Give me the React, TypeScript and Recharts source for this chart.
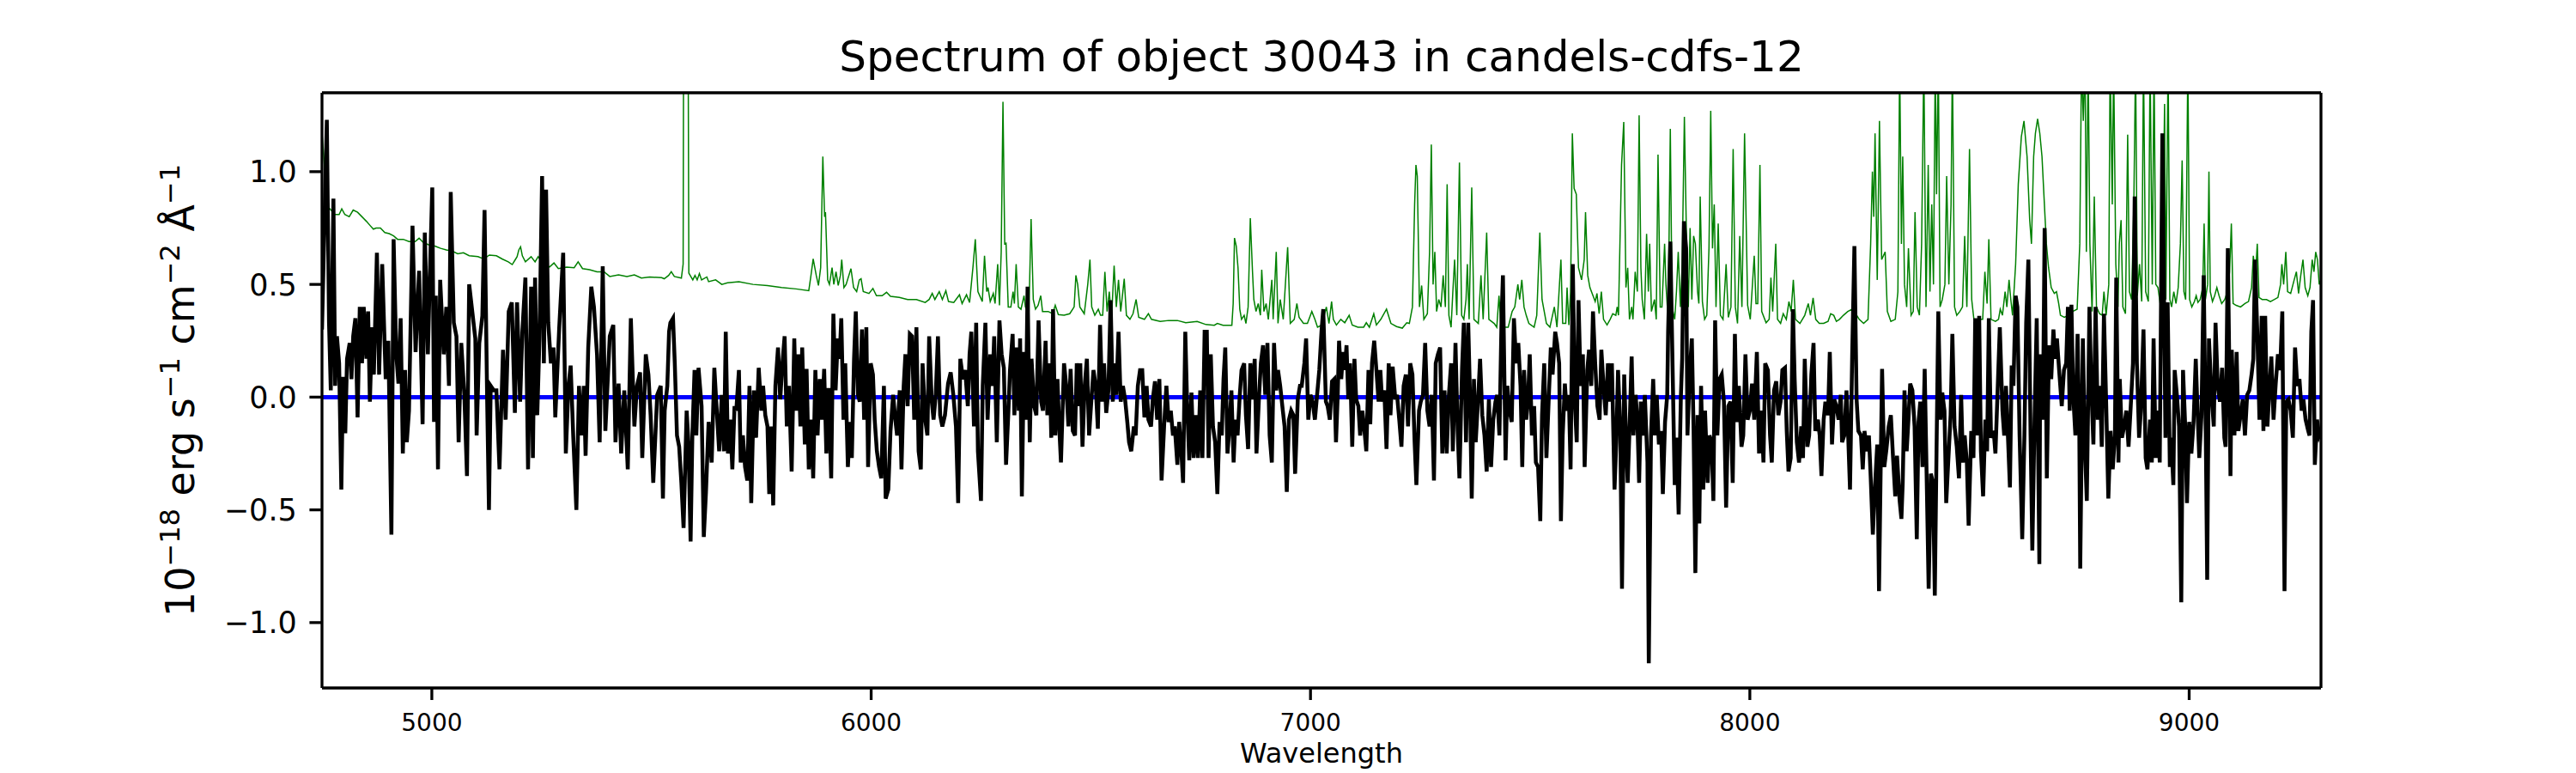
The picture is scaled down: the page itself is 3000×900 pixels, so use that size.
import React from 'react';
import { LineChart, Line, XAxis, YAxis, Label } from 'recharts';

// ---------- data ----------
const X_TICKS = [5000, 6000, 7000, 8000, 9000];
const Y_TICKS = [-1.0, -0.5, 0.0, 0.5, 1.0];
const X_DOMAIN: [number, number] = [4750, 9300];
const Y_DOMAIN: [number, number] = [-1.29, 1.35];

const TITLE = 'Spectrum of object 30043 in candels-cdfs-12';
const X_LABEL = 'Wavelength';

// observed flux (black) [wavelength, flux]
const FLUX_A: [number, number][] = [[4750,0.30],[4761,1.23],[4766,0.33],[4770,0.03],[4776,0.88],[4780,0.05],[4784,0.27],[4789,0.15],[4794,-0.41],[4798,0.09],[4803,-0.16],[4807,0.17],[4813,0.24],[4817,0.08],[4821,0.27],[4826,0.35],[4831,-0.09],[4836,0.40],[4841,0.15],[4845,0.40],[4851,0.17],[4855,0.38],[4859,-0.02],[4864,0.31],[4868,0.10],[4875,0.64],[4880,0.10],[4887,0.59],[4895,0.08],[4901,0.25],[4908,-0.61],[4913,0.70],[4919,0.19],[4924,0.06],[4929,0.35],[4934,-0.25],[4939,0.12],[4943,-0.20],[4948,-0.06],[4956,0.76],[4963,0.20],[4971,0.56],[4979,-0.12],[4984,0.73],[4991,0.19],[4995,0.50],[5001,0.93],[5005,-0.11],[5009,0.45],[5014,-0.32],[5019,0.52],[5027,0.19],[5033,0.40],[5039,0.05],[5043,0.91],[5050,0.33],[5056,0.27],[5061,-0.20],[5067,0.24],[5074,0.01],[5080,-0.35],[5085,0.50],[5092,0.38],[5099,0.26],[5102,-0.17],[5108,0.24],[5115,0.36],[5120,0.83],[5126,-0.02],[5130,-0.50],[5134,0.05],[5141,0.03],[5147,0.03],[5154,-0.32],[5162,0.21],[5168,-0.10],[5175,0.38],[5182,0.42],[5189,-0.07],[5194,0.42],[5201,-0.02],[5206,0.29],[5213,0.53],[5219,-0.32],[5226,0.49],[5230,-0.27],[5235,0.53],[5240,-0.08],[5245,0.26],[5251,0.98],[5255,0.15],[5260,0.92],[5265,0.33],[5271,0.15],[5277,0.22],[5281,-0.09],[5290,0.31],[5299,0.64],[5305,-0.25],[5311,0.05],[5316,0.14],[5322,-0.18],[5329,-0.50],[5335,0.05],[5340,-0.17],[5346,0.05],[5350,-0.26],[5356,0.22],[5363,0.49],[5369,0.40],[5376,0.19],[5382,-0.20],[5389,0.58],[5395,-0.15],[5405,0.27],[5413,0.32],[5418,-0.20],[5425,0.06],[5431,-0.25],[5438,0.03],[5446,-0.32],[5453,0.35],[5461,-0.13],[5467,0.05],[5474,0.11],[5479,-0.27],[5487,0.19],[5493,0.10],[5498,-0.08],[5504,-0.38],[5513,0.01],[5521,0.05]];

const FLUX_B: [number, number][] = [[5526,-0.45],[5530,-0.06],[5536,0.05],[5540,0.29],[5543,0.33],[5549,0.35],[5553,0.15],[5558,-0.17],[5563,-0.22],[5568,-0.38],[5573,-0.58],[5580,-0.06],[5584,-0.20],[5589,-0.64],[5593,-0.17],[5598,0.12],[5602,-0.17],[5607,0.13],[5614,-0.04],[5619,-0.62],[5624,-0.42],[5630,-0.11],[5637,-0.29],[5643,0.13],[5648,-0.04],[5654,-0.24],[5660,0.01],[5665,-0.24],[5669,0.29],[5674,-0.25],[5679,-0.10],[5684,-0.32],[5689,-0.04],[5693,-0.06],[5699,0.12],[5703,-0.29],[5708,-0.17],[5713,-0.31],[5718,-0.37],[5723,0.05],[5727,-0.47],[5733,0.03],[5738,-0.18],[5744,0.13],[5750,-0.06],[5754,0.05],[5759,-0.08],[5764,-0.13],[5768,-0.43],[5773,-0.13],[5777,-0.48],[5782,0.05],[5788,0.22],[5793,-0.01],[5798,0.15],[5803,0.27],[5808,-0.13],[5813,0.05],[5819,-0.33],[5825,0.26],[5829,-0.06],[5834,0.19],[5839,-0.13],[5843,0.22],[5849,-0.21],[5853,0.125],[5858,-0.32],[5864,-0.10],[5868,-0.36],[5873,0.12],[5878,-0.17],[5883,0.08],[5888,-0.10],[5893,0.125],[5898,-0.25],[5903,0.04],[5909,-0.36],[5914,0.37],[5919,0.03],[5924,0.26],[5928,0.17],[5932,0.35],[5937,-0.10],[5941,0.15],[5947,-0.31],[5952,-0.11],[5956,-0.27],[5961,0.17],[5965,0.38],[5970,0.01],[5974,-0.02],[5979,0.30],[5984,-0.10],[5989,0.31],[5993,-0.31],[5999,0.15],[6004,0.10],[6008,-0.10],[6013,-0.24],[6018,-0.31],[6023,-0.36],[6029,0.05],[6033,-0.45],[6039,-0.41],[6044,-0.15],[6050,0.01],[6055,-0.10],[6059,-0.17],[6065,0.03],[6069,-0.32],[6074,0.05],[6078,0.19],[6083,-0.04],[6088,0.28],[6093,0.27],[6098,-0.10],[6103,0.31],[6108,-0.24],[6113,-0.32],[6117,0.15],[6123,-0.10],[6128,-0.17],[6132,0.27],[6138,-0.02],[6142,-0.10],[6147,0.01],[6152,0.27],[6157,-0.08],[6162,-0.13],[6168,-0.08],[6175,0.06],[6181,0.11],[6187,0.01],[6193,-0.13],[6198,-0.47],[6203,0.17],[6209,0.08],[6214,0.12],[6220,-0.04],[6224,0.19],[6228,0.29],[6234,-0.13],[6239,0.33],[6243,-0.24],[6250,-0.46],[6254,0.05],[6260,0.33],[6265,-0.10],[6271,0.19],[6276,0.05],[6280,0.27],[6286,-0.20]];

const FLUX_C: [number, number][] = [[6292,0.34],[6297,0.19],[6302,0.13],[6307,-0.30],[6312,-0.08],[6316,0.12],[6322,0.28],[6326,-0.08],[6331,0.22],[6336,-0.06],[6339,0.26],[6343,-0.44],[6348,0.20],[6352,-0.10],[6356,0.49],[6361,-0.20],[6365,0.17],[6371,-0.04],[6376,-0.08],[6381,0.34],[6387,-0.02],[6391,-0.06],[6397,0.25],[6401,-0.08],[6406,0.15],[6410,-0.18],[6414,0.39],[6419,-0.17],[6424,0.08],[6428,-0.13],[6432,-0.29],[6439,0.15],[6444,0.05],[6449,-0.13],[6454,0.125],[6459,-0.15],[6464,-0.17],[6468,0.15],[6474,-0.04],[6476,0.15],[6481,-0.22],[6486,0.05],[6491,0.17],[6496,-0.17],[6501,-0.02],[6506,0.12],[6511,0.05],[6516,-0.14],[6521,0.32],[6526,-0.02],[6530,0.15],[6535,-0.07],[6540,0.03],[6545,0.43],[6550,-0.02],[6554,0.15],[6558,0.01],[6563,0.29],[6568,-0.02],[6573,0.05],[6578,-0.01],[6583,-0.11],[6587,-0.20],[6592,-0.24],[6598,-0.13],[6602,-0.17],[6607,0.05],[6612,0.12],[6617,0.12],[6622,-0.09],[6627,0.05],[6631,-0.10],[6637,-0.13],[6641,-0.01],[6646,0.07],[6651,-0.10],[6656,0.08],[6661,-0.37],[6667,-0.12],[6672,0.05],[6677,-0.11],[6682,-0.06],[6687,-0.17],[6691,-0.13],[6697,-0.30],[6701,-0.11],[6706,-0.24],[6710,-0.38],[6715,0.29],[6719,-0.02],[6724,-0.28],[6729,0.02],[6734,-0.27],[6739,-0.08],[6744,-0.27],[6749,0.03],[6754,-0.27],[6759,0.29],[6764,0.29],[6768,-0.27],[6773,0.19],[6778,-0.13],[6783,-0.20],[6788,-0.43],[6793,-0.11],[6798,-0.17],[6802,0.08],[6806,0.22],[6811,-0.25],[6815,-0.15],[6820,0.03],[6825,-0.29],[6829,-0.10],[6834,-0.17],[6839,0.01],[6843,0.12],[6849,0.15],[6853,-0.08],[6858,-0.23],[6863,0.15],[6868,-0.01],[6873,0.17],[6877,-0.25],[6883,0.01],[6887,0.15],[6892,0.23],[6897,0.01],[6902,0.24],[6907,-0.17],[6912,-0.29],[6917,0.24],[6922,0.03],[6926,0.12],[6931,0.05],[6937,-0.06],[6941,-0.13],[6946,-0.42],[6951,-0.10],[6956,-0.06],[6961,-0.08],[6965,-0.34],[6971,-0.01],[6976,0.05],[6980,0.05],[6986,0.15],[6990,0.26],[6995,-0.10],[7000,0.01],[7005,-0.02],[7010,-0.10],[7015,0.01],[7020,0.12],[7025,0.29],[7029,0.39]];

const FLUX_D: [number, number][] = [[7035,-0.02],[7039,-0.04],[7044,-0.10],[7049,0.07],[7054,0.08],[7058,-0.20],[7062,0.01],[7065,0.25],[7070,0.08],[7074,0.20],[7078,0.12],[7082,0.23],[7086,-0.01],[7090,0.15],[7095,-0.22],[7100,0.17],[7104,-0.01],[7109,-0.04],[7113,-0.17],[7118,-0.06],[7122,-0.13],[7127,-0.24],[7132,0.12],[7136,-0.12],[7140,0.15],[7145,0.25],[7150,0.12],[7155,-0.02],[7159,0.12],[7163,-0.02],[7168,0.03],[7173,-0.23],[7178,0.15],[7182,-0.08],[7187,0.135],[7193,-0.01],[7197,0.01],[7202,-0.10],[7207,-0.22],[7212,0.05],[7217,0.10],[7222,-0.13],[7227,0.15],[7232,0.10],[7237,-0.20],[7241,-0.39],[7247,-0.06],[7251,-0.02],[7256,0.01],[7261,0.24],[7266,-0.06],[7271,-0.13],[7276,0.01],[7281,-0.37],[7285,0.15],[7290,0.19],[7295,0.22],[7300,-0.25],[7305,0.03],[7310,-0.25],[7315,0.01],[7320,0.15],[7324,-0.24],[7330,0.24],[7335,-0.15],[7339,-0.36],[7345,0.13],[7349,0.33],[7354,-0.20],[7359,0.33],[7363,0.01],[7367,-0.45],[7372,0.08],[7376,-0.20],[7382,0.01],[7386,0.17],[7391,-0.08],[7396,-0.17],[7401,-0.33],[7406,-0.01],[7411,-0.31],[7416,-0.10],[7421,-0.02],[7425,0.01],[7430,-0.17],[7435,0.36],[7438,0.54],[7444,-0.28],[7448,0.05],[7453,-0.06],[7458,-0.11],[7463,0.35],[7468,0.15],[7473,0.24],[7478,0.05],[7482,-0.31],[7486,0.12],[7491,-0.10],[7495,-0.02],[7499,0.19],[7504,-0.17],[7509,-0.04],[7513,-0.29],[7518,-0.31],[7523,-0.55],[7527,-0.08],[7532,0.15],[7537,-0.27],[7542,-0.02],[7547,0.22],[7551,0.10],[7557,0.29],[7561,0.24],[7566,0.15],[7570,-0.55],[7574,-0.17],[7579,0.06],[7583,-0.06],[7588,0.01],[7592,-0.32],[7597,0.59],[7602,-0.04],[7606,-0.20],[7610,0.43],[7615,0.05],[7620,0.19],[7624,-0.31],[7630,0.12],[7634,0.21],[7639,0.05],[7643,0.38],[7648,0.15],[7653,-0.04],[7658,-0.10],[7662,0.21],[7667,0.05],[7672,-0.08],[7677,0.15],[7682,-0.02],[7686,0.15],[7692,-0.41],[7696,-0.20],[7700,0.12],[7705,-0.13],[7709,-0.85],[7714,0.10],[7718,-0.17],[7722,-0.38],[7726,-0.15],[7731,0.18],[7735,-0.17],[7740,0.01],[7744,-0.10],[7748,-0.38],[7752,-0.02],[7757,-0.17],[7761,0.01],[7767,-0.29],[7770,-1.18],[7775,-0.17],[7780,0.08],[7784,-0.17],[7788,0.01],[7793,-0.21],[7798,-0.15],[7802,-0.43],[7807,-0.11],[7812,0.01]];

const FLUX_E: [number, number][] = [[7814,0.29],[7819,0.69],[7823,0.26],[7829,-0.39],[7833,-0.18],[7838,-0.52],[7843,0.00],[7846,0.17],[7850,0.78],[7855,0.66],[7858,-0.17],[7863,0.10],[7868,0.26],[7872,-0.15],[7876,-0.78],[7881,-0.08],[7885,-0.56],[7889,0.05],[7894,-0.41],[7898,-0.06],[7904,-0.38],[7908,-0.17],[7913,-0.20],[7917,-0.46],[7921,0.34],[7926,-0.17],[7931,0.08],[7936,0.10],[7941,-0.02],[7946,-0.49],[7951,-0.04],[7956,-0.02],[7961,-0.38],[7966,0.28],[7970,-0.11],[7975,0.05],[7981,-0.22],[7985,-0.17],[7990,0.19],[7995,-0.10],[8000,-0.06],[8005,0.06],[8010,-0.10],[8016,0.20],[8021,-0.25],[8026,-0.06],[8031,-0.29],[8035,0.15],[8041,0.12],[8046,-0.17],[8050,-0.29],[8055,0.03],[8060,0.07],[8065,-0.08],[8070,-0.02],[8074,0.12],[8080,0.13],[8084,-0.15],[8088,-0.33],[8093,-0.27],[8098,0.39],[8102,0.08],[8107,-0.20],[8112,-0.29],[8117,-0.13],[8121,-0.27],[8125,0.17],[8131,-0.22],[8135,-0.17],[8140,0.10],[8145,0.24],[8149,-0.15],[8155,-0.10],[8159,-0.17],[8163,-0.35],[8168,-0.10],[8172,-0.02],[8178,-0.08],[8182,0.20],[8187,-0.21],[8192,-0.01],[8197,-0.04],[8202,-0.10],[8207,0.01],[8210,-0.20],[8215,-0.17],[8220,0.03],[8224,-0.18],[8228,-0.41],[8233,0.19],[8238,0.67],[8243,-0.01],[8247,-0.15],[8253,-0.17],[8257,-0.32],[8261,-0.15],[8266,-0.24],[8271,-0.17],[8275,-0.35],[8280,-0.61],[8285,-0.39],[8290,-0.21],[8294,-0.86],[8298,-0.29],[8301,0.125],[8306,-0.31],[8311,-0.23],[8316,-0.13],[8321,-0.08],[8326,-0.27],[8331,-0.44],[8335,-0.26],[8341,-0.46],[8345,-0.54],[8348,-0.38],[8352,0.03],[8357,-0.24],[8361,-0.10],[8365,0.06],[8370,0.03],[8375,-0.13],[8380,-0.63],[8384,-0.11],[8388,-0.02],[8393,-0.31],[8398,0.125],[8403,-0.41],[8407,-0.85],[8412,-0.34],[8417,-0.38],[8421,-0.88],[8425,-0.23],[8429,0.38],[8434,-0.10],[8438,0.02],[8443,-0.06],[8447,-0.47],[8451,-0.31],[8457,-0.08],[8461,0.28],[8466,-0.13],[8471,-0.22],[8476,-0.36],[8481,0.01],[8485,-0.29],[8489,-0.17],[8494,-0.29],[8498,-0.57],[8504,-0.15],[8509,-0.27],[8513,0.35],[8518,-0.17],[8522,0.36],[8526,-0.24],[8531,-0.44],[8536,-0.10],[8540,-0.24],[8544,0.35],[8549,-0.18],[8555,-0.15],[8559,-0.25],[8564,0.03],[8569,0.31],[8575,-0.06]];

const FLUX_F: [number, number][] = [[8579,-0.17],[8583,0.05],[8587,-0.15],[8592,-0.40],[8596,0.14],[8600,0.05],[8605,0.45],[8609,0.40],[8614,-0.17],[8620,-0.63],[8625,-0.17],[8629,0.33],[8634,0.61],[8639,-0.17],[8643,-0.68],[8648,-0.10],[8653,0.35],[8659,-0.74],[8661,0.19],[8667,-0.10],[8671,0.75],[8676,-0.36],[8681,0.23],[8686,0.08],[8691,0.30],[8695,0.17],[8699,0.26],[8704,0.12],[8710,-0.04],[8715,0.12],[8720,0.15],[8724,0.40],[8728,-0.06],[8732,0.41],[8736,0.01],[8741,-0.17],[8746,0.28],[8750,-0.17],[8752,-0.76],[8758,0.26],[8763,-0.24],[8767,-0.46],[8773,0.40],[8777,0.06],[8782,-0.21],[8787,0.40],[8792,-0.10],[8797,0.05],[8801,-0.22],[8806,0.37],[8811,-0.02],[8816,-0.45],[8821,-0.15],[8826,-0.32],[8831,-0.17],[8834,0.53],[8839,-0.29],[8842,0.08],[8847,-0.18],[8852,-0.13],[8857,-0.06],[8862,-0.22],[8867,-0.04],[8872,0.15],[8876,0.89],[8881,0.15],[8886,-0.18],[8890,-0.06],[8896,0.30],[8901,-0.27],[8905,-0.32],[8911,-0.10],[8915,-0.29],[8919,0.26],[8924,-0.27],[8928,-0.06],[8933,-0.29],[8939,1.17],[8943,0.40],[8946,-0.18],[8951,0.42],[8956,-0.31],[8959,-0.18],[8964,-0.39],[8967,0.12],[8972,0.01],[8977,-0.13],[8982,-0.91],[8986,0.12],[8991,-0.13],[8995,-0.47],[9000,-0.11],[9005,-0.25],[9010,-0.11],[9015,0.17],[9019,-0.06],[9023,-0.27],[9028,-0.08],[9033,0.54],[9038,-0.20],[9041,-0.81],[9045,0.26],[9051,0.01],[9056,-0.13],[9060,0.33],[9065,0.05],[9070,-0.02],[9075,0.13],[9080,-0.18],[9083,-0.22],[9088,0.66],[9092,0.03],[9094,-0.35],[9097,0.21],[9103,-0.17],[9108,0.20],[9112,-0.15],[9117,-0.08],[9122,-0.01],[9127,-0.17],[9132,0.01],[9137,0.03],[9142,0.10],[9146,0.17],[9150,0.61],[9155,0.29],[9160,-0.10],[9165,0.36],[9169,-0.15],[9173,0.36],[9178,-0.13],[9182,0.01],[9187,0.18],[9192,-0.10],[9197,0.06],[9202,0.19],[9207,0.12],[9212,0.38],[9217,-0.86],[9221,-0.02],[9226,-0.01],[9231,-0.06],[9236,-0.18],[9241,0.22],[9246,0.05],[9251,0.08],[9256,-0.06],[9260,-0.01],[9265,-0.10],[9271,-0.15],[9274,-0.17],[9278,0.29],[9282,0.43],[9286,-0.30],[9291,-0.10],[9296,-0.17],[9300,-0.15]];

// noise / sky spectrum (green) [wavelength, value]
const NOISE_A: [number, number][] = [[4750,1.17],[4759,0.94],[4766,0.84],[4779,0.81],[4789,0.81],[4795,0.835],[4802,0.81],[4812,0.80],[4821,0.83],[4831,0.82],[4841,0.80],[4851,0.78],[4860,0.76],[4867,0.745],[4873,0.75],[4883,0.75],[4893,0.73],[4903,0.725],[4913,0.715],[4922,0.70],[4935,0.70],[4948,0.69],[4962,0.69],[4971,0.705],[4981,0.685],[4994,0.675],[5007,0.67],[5020,0.66],[5033,0.653],[5046,0.648],[5059,0.636],[5072,0.64],[5085,0.627],[5105,0.623],[5118,0.613],[5131,0.63],[5147,0.627],[5160,0.613],[5174,0.60],[5183,0.588],[5190,0.61],[5194,0.623],[5198,0.653],[5202,0.667],[5206,0.627],[5213,0.60],[5226,0.623],[5235,0.60],[5242,0.623],[5255,0.59],[5268,0.577],[5278,0.595],[5288,0.57],[5307,0.577],[5324,0.574],[5333,0.60],[5343,0.57],[5359,0.565],[5376,0.556],[5392,0.556],[5405,0.535],[5425,0.542],[5444,0.535],[5461,0.542],[5477,0.528],[5496,0.533],[5523,0.53]];

const NOISE_B: [number, number][] = [[5529,0.525],[5539,0.54],[5545,0.556],[5552,0.535],[5568,0.528],[5572,0.59],[5574,2.5],[5582,2.5],[5585,0.55],[5588,0.54],[5594,0.52],[5599,0.54],[5604,0.52],[5609,0.548],[5614,0.52],[5626,0.533],[5630,0.512],[5646,0.52],[5660,0.50],[5673,0.507],[5699,0.512],[5731,0.50],[5764,0.495],[5796,0.486],[5829,0.48],[5858,0.472],[5863,0.54],[5868,0.613],[5875,0.54],[5880,0.495],[5885,0.574],[5890,1.067],[5894,0.80],[5896,0.82],[5901,0.52],[5905,0.50],[5911,0.574],[5915,0.50],[5920,0.556],[5925,0.495],[5930,0.54],[5933,0.61],[5938,0.486],[5943,0.50],[5954,0.57],[5960,0.486],[5967,0.468],[5973,0.52],[5977,0.525],[5982,0.468],[5995,0.46],[6004,0.482],[6012,0.45],[6025,0.45],[6035,0.465],[6044,0.447],[6064,0.442],[6083,0.433],[6103,0.433],[6123,0.42],[6132,0.433],[6139,0.46],[6145,0.433],[6155,0.468],[6162,0.433],[6170,0.472],[6176,0.424],[6188,0.42],[6201,0.454],[6207,0.415],[6217,0.454],[6224,0.42],[6232,0.583],[6237,0.70],[6243,0.468],[6253,0.424],[6258,0.627],[6263,0.468]];

const NOISE_C: [number, number][] = [[6266,0.486],[6271,0.424],[6278,0.46],[6282,0.415],[6288,0.59],[6292,0.407],[6296,0.644],[6300,1.31],[6304,0.68],[6307,0.683],[6312,0.40],[6318,0.40],[6323,0.468],[6326,0.415],[6330,0.59],[6335,0.40],[6341,0.39],[6348,0.45],[6351,0.40],[6359,0.37],[6364,0.79],[6369,0.433],[6374,0.39],[6380,0.407],[6386,0.45],[6390,0.38],[6403,0.38],[6413,0.37],[6419,0.407],[6426,0.366],[6439,0.363],[6452,0.37],[6462,0.40],[6466,0.54],[6470,0.50],[6475,0.40],[6485,0.37],[6493,0.50],[6498,0.61],[6502,0.40],[6509,0.363],[6517,0.39],[6522,0.363],[6527,0.363],[6532,0.556],[6537,0.38],[6542,0.468],[6547,0.345],[6553,0.583],[6558,0.40],[6563,0.52],[6568,0.38],[6576,0.525],[6581,0.363],[6589,0.345],[6596,0.37],[6603,0.433],[6609,0.354],[6622,0.345],[6631,0.37],[6638,0.345],[6658,0.336],[6677,0.34],[6697,0.34],[6716,0.33],[6742,0.336],[6762,0.322],[6781,0.319],[6788,0.327],[6801,0.319],[6821,0.319],[6824,0.415],[6827,0.706],[6831,0.67],[6835,0.574],[6839,0.39],[6843,0.345],[6849,0.363],[6853,0.327],[6858,0.40],[6863,0.794],[6868,0.556],[6871,0.433],[6876,0.38],[6881,0.415],[6886,0.363],[6889,0.565],[6894,0.38],[6899,0.415],[6904,0.345],[6912,0.52],[6915,0.345],[6922,0.644],[6926,0.327],[6931,0.433],[6938,0.345],[6948,0.665],[6954,0.327],[6963,0.345],[6969,0.415],[6974,0.354],[6984,0.327],[6993,0.327],[7003,0.38],[7010,0.345],[7016,0.31],[7026,0.32]];

const NOISE_D: [number, number][] = [[7036,0.40],[7042,0.327],[7048,0.424],[7052,0.345],[7059,0.32],[7069,0.345],[7078,0.33],[7088,0.363],[7095,0.32],[7108,0.31],[7121,0.31],[7127,0.33],[7134,0.31],[7144,0.37],[7150,0.32],[7160,0.345],[7173,0.39],[7183,0.327],[7196,0.313],[7209,0.306],[7219,0.33],[7225,0.327],[7232,0.40],[7237,0.855],[7240,1.03],[7243,0.98],[7248,0.40],[7253,0.495],[7258,0.345],[7266,0.37],[7271,0.644],[7275,1.12],[7279,0.50],[7283,0.644],[7287,0.38],[7292,0.433],[7297,0.40],[7302,0.54],[7307,0.40],[7311,0.944],[7315,0.363],[7320,0.31],[7324,0.468],[7328,0.61],[7333,0.363],[7339,1.04],[7344,0.363],[7349,0.345],[7354,0.433],[7357,0.59],[7361,0.345],[7367,0.93],[7372,0.345],[7382,0.327],[7388,0.54],[7393,0.345],[7401,0.73],[7406,0.345],[7418,0.327],[7424,0.31],[7429,0.45],[7433,0.327],[7439,0.31],[7450,0.31],[7459,0.38],[7465,0.40],[7472,0.50],[7476,0.433],[7481,0.52],[7486,0.40],[7491,0.363],[7497,0.327],[7509,0.31],[7515,0.363],[7522,0.73],[7527,0.433],[7532,0.38],[7537,0.327],[7545,0.31],[7555,0.40],[7561,0.31],[7570,0.61],[7574,0.327],[7581,0.327],[7584,0.486],[7588,0.32],[7592,0.468],[7596,1.17],[7600,0.926],[7605,0.90],[7610,0.574],[7617,0.52],[7623,0.61],[7626,0.82],[7631,0.54],[7636,0.486],[7643,0.45],[7648,0.424],[7652,0.46],[7657,0.37],[7662,0.468],[7667,0.345],[7675,0.32],[7682,0.345],[7688,0.37],[7695,0.363],[7698,0.40],[7701,0.363],[7708,1.03],[7713,1.22],[7718,0.486],[7722,0.574],[7726,0.345],[7731,0.40],[7734,0.345],[7739,0.556],[7744,0.468],[7748,1.25],[7752,0.574],[7755,0.433],[7760,0.345],[7765,0.724],[7769,0.468],[7772,0.68],[7776,0.38],[7783,0.433],[7787,0.345],[7791,1.076],[7796,0.40],[7800,0.40],[7806,0.68],[7809,0.50],[7814,0.345]];

const NOISE_E: [number, number][] = [[7819,1.19],[7823,0.40],[7829,0.345],[7833,0.468],[7837,0.644],[7842,0.40],[7846,0.59],[7851,1.243],[7856,0.68],[7860,0.40],[7864,0.75],[7868,0.433],[7872,0.715],[7876,0.68],[7881,0.468],[7884,0.415],[7887,0.89],[7892,0.424],[7897,0.345],[7902,0.363],[7907,0.66],[7911,1.27],[7915,0.66],[7919,0.855],[7923,0.40],[7928,0.77],[7933,0.363],[7939,0.345],[7946,0.59],[7951,0.354],[7957,0.40],[7962,1.10],[7967,0.40],[7972,0.327],[7977,0.715],[7982,0.40],[7988,1.17],[7995,0.407],[8001,0.345],[8010,0.627],[8014,0.415],[8018,0.415],[8023,1.03],[8027,0.38],[8037,0.33],[8044,0.345],[8048,0.53],[8052,0.38],[8059,0.68],[8063,0.345],[8070,0.327],[8076,0.37],[8083,0.345],[8089,0.424],[8094,0.38],[8099,0.52],[8104,0.345],[8114,0.327],[8125,0.363],[8133,0.415],[8138,0.363],[8144,0.44],[8150,0.345],[8158,0.327],[8168,0.327],[8178,0.336],[8184,0.37],[8191,0.363],[8197,0.336],[8204,0.345],[8213,0.363],[8223,0.38],[8233,0.39],[8241,0.37],[8249,0.345],[8259,0.327],[8269,0.345],[8275,0.68],[8279,1.0],[8282,0.80],[8285,1.17],[8290,0.52],[8295,1.225],[8300,0.61],[8308,0.644],[8313,0.38],[8321,0.336],[8331,0.345],[8337,0.468],[8341,1.5],[8345,0.68],[8348,1.067],[8352,0.50],[8357,0.40],[8361,0.66],[8367,0.363],[8372,0.38],[8376,0.82],[8381,0.40],[8386,0.363],[8391,0.68],[8396,1.5],[8401,0.40],[8406,1.03],[8410,0.468],[8414,0.855],[8418,0.50],[8422,1.5],[8425,0.9],[8429,1.5],[8433,0.40],[8438,0.433],[8444,0.50],[8448,0.98],[8453,0.50],[8458,0.855],[8461,1.5],[8466,0.40],[8471,0.363],[8478,0.38],[8484,0.40],[8489,0.715],[8494,0.40],[8500,1.10],[8505,0.433],[8510,0.345],[8520,0.345],[8530,0.345],[8535,0.556],[8540,0.415],[8544,0.70],[8549,0.345],[8559,0.336],[8566,0.345],[8570,0.39],[8575,0.363]];

const NOISE_F: [number, number][] = [[8581,0.468],[8585,0.40],[8590,0.52],[8594,0.433],[8598,0.363],[8605,0.59],[8611,0.944],[8618,1.155],[8624,1.225],[8631,1.067],[8637,0.785],[8641,0.68],[8646,1.067],[8650,1.17],[8655,1.234],[8660,1.17],[8665,1.067],[8670,0.873],[8675,0.68],[8680,0.574],[8686,0.486],[8693,0.46],[8698,0.468],[8703,0.415],[8707,0.363],[8716,0.354],[8725,0.363],[8735,0.38],[8745,0.39],[8751,0.68],[8755,1.5],[8759,1.225],[8763,1.5],[8766,0.644],[8770,1.5],[8774,0.68],[8779,0.38],[8784,0.89],[8789,0.40],[8796,0.37],[8802,0.363],[8806,0.468],[8811,0.363],[8817,0.50],[8820,1.5],[8825,0.855],[8828,1.5],[8833,0.59],[8838,0.40],[8841,0.68],[8845,0.785],[8849,0.40],[8855,0.37],[8860,1.164],[8864,0.468],[8869,0.433],[8874,0.855],[8878,1.5],[8882,0.45],[8887,0.59],[8892,0.424],[8896,1.5],[8901,0.468],[8907,0.424],[8911,1.5],[8916,0.50],[8920,1.5],[8924,0.50],[8929,0.486],[8934,0.415],[8939,0.50],[8944,1.30],[8947,0.433],[8952,1.5],[8956,0.433],[8960,0.40],[8965,0.468],[8970,0.415],[8975,0.486],[8980,0.68],[8984,1.05],[8988,0.468],[8992,0.433],[8997,1.5],[9001,0.433],[9006,0.40],[9012,0.424],[9016,0.45],[9020,0.42],[9025,0.433],[9031,0.486],[9034,0.77],[9037,0.433],[9042,0.50],[9045,1.0],[9048,0.468],[9053,0.424],[9058,0.45],[9063,0.486],[9068,0.45],[9074,0.415],[9081,0.433],[9087,0.468],[9092,0.556],[9096,0.77],[9100,0.415],[9107,0.407],[9117,0.40],[9127,0.415],[9135,0.424],[9142,0.486],[9146,0.627],[9151,0.54],[9155,0.68],[9159,0.442],[9166,0.433],[9176,0.433],[9185,0.424],[9194,0.433],[9202,0.442],[9208,0.50],[9211,0.59],[9215,0.50],[9220,0.644],[9224,0.468],[9231,0.46],[9239,0.52],[9244,0.556],[9249,0.46],[9254,0.54],[9259,0.61],[9264,0.486],[9270,0.45],[9275,0.486],[9280,0.61],[9284,0.556],[9288,0.644],[9292,0.61],[9296,0.50],[9300,0.52]];

// model (blue) [wavelength, value]
const MODEL: [number, number][] = [[4750, 0], [9300, 0]];

// ---------- build tables ----------
type Row = { wl: number; v: number };
const toRows = (pairs: [number, number][]): Row[] => pairs.map(([wl, v]) => ({ wl, v }));
const fluxRows = toRows([...FLUX_A, ...FLUX_B, ...FLUX_C, ...FLUX_D, ...FLUX_E, ...FLUX_F]);
const noiseRows = toRows([...NOISE_A, ...NOISE_B, ...NOISE_C, ...NOISE_D, ...NOISE_E, ...NOISE_F]);
const modelRows = toRows(MODEL);

// ---------- styling ----------
const FONT = '"DejaVu Sans", Verdana, sans-serif';
const SPINE = { stroke: '#000', strokeWidth: 3.3 };
const fmtY = (v: number) => (v < 0 ? '\u2212' : '') + Math.abs(v).toFixed(1);

const TitleLabel = (props: any) => {
  const vb = props.viewBox || { x: 375, y: 78, width: 2328, height: 30 };
  return (
    <text x={vb.x + vb.width / 2} y={vb.y + vb.height - 25} textAnchor="middle"
      fontFamily={FONT} fontSize={50} fill="#000">{TITLE}</text>
  );
};

const XLabel = (props: any) => {
  const vb = props.viewBox || { x: 375, y: 801, width: 2328, height: 99 };
  return (
    <text x={vb.x + vb.width / 2} y={vb.y + 87} textAnchor="middle"
      fontFamily={FONT} fontSize={32} fill="#000">{X_LABEL}</text>
  );
};

const YLabel = (props: any) => {
  const vb = props.viewBox || { x: 255, y: 108, width: 120, height: 693 };
  const cx = vb.x + vb.width - 149;
  const cy = vb.y + vb.height / 2;
  const SUP = 32;
  const UP = 17;
  return (
    <text x={cx} y={cy} textAnchor="middle" transform={`rotate(-90, ${cx}, ${cy})`}
      fontFamily={FONT} fontSize={46} fill="#000">
      <tspan>10</tspan>
      <tspan fontSize={SUP} dy={-UP}>{'\u221218'}</tspan>
      <tspan dy={UP}>{' erg s'}</tspan>
      <tspan fontSize={SUP} dy={-UP}>{'\u22121'}</tspan>
      <tspan dy={UP}>{' cm'}</tspan>
      <tspan fontSize={SUP} dy={-UP}>{'\u22122'}</tspan>
      <tspan dy={UP}>{' \u00C5'}</tspan>
      <tspan fontSize={SUP} dy={-UP}>{'\u22121'}</tspan>
    </text>
  );
};

export default function App() {
  return (
    <div style={{ position: 'absolute', left: 0, top: 0, width: 3000, height: 900, background: '#fff' }}>
      <LineChart width={3000} height={900} margin={{ top: 78, right: 267, bottom: 0, left: 255 }}>
        <XAxis xAxisId="bottom" dataKey="wl" type="number" domain={X_DOMAIN} allowDataOverflow
          ticks={X_TICKS} interval={0} height={99} tickSize={14} tickMargin={16}
          tick={{ fontSize: 28, fill: '#000', fontFamily: FONT }}
          axisLine={SPINE} tickLine={SPINE}>
          <Label content={XLabel} />
        </XAxis>
        <XAxis xAxisId="top" orientation="top" dataKey="wl" type="number" domain={X_DOMAIN} allowDataOverflow
          height={30} tick={false} tickLine={false} axisLine={SPINE}>
          <Label content={TitleLabel} />
        </XAxis>
        <YAxis yAxisId="left" type="number" domain={Y_DOMAIN} allowDataOverflow ticks={Y_TICKS} interval={0}
          width={120} tickSize={14.6} tickMargin={14.6} tickFormatter={fmtY}
          tick={{ fontSize: 35, fill: '#000', fontFamily: FONT }}
          axisLine={SPINE} tickLine={SPINE}>
          <Label content={YLabel} />
        </YAxis>
        <YAxis yAxisId="right" orientation="right" type="number" domain={Y_DOMAIN} allowDataOverflow
          width={30} tick={false} tickLine={false} axisLine={SPINE} />
        <Line xAxisId="bottom" yAxisId="left" data={noiseRows} dataKey="v" type="linear"
          stroke="#008000" strokeWidth={1.5} dot={false} activeDot={false} isAnimationActive={false} />
        <Line xAxisId="bottom" yAxisId="left" data={modelRows} dataKey="v" type="linear"
          stroke="#0000ff" strokeWidth={5} dot={false} activeDot={false} isAnimationActive={false} />
        <Line xAxisId="bottom" yAxisId="left" data={fluxRows} dataKey="v" type="linear"
          stroke="#000000" strokeWidth={4.5} dot={false} activeDot={false} isAnimationActive={false} />
      </LineChart>
    </div>
  );
}
